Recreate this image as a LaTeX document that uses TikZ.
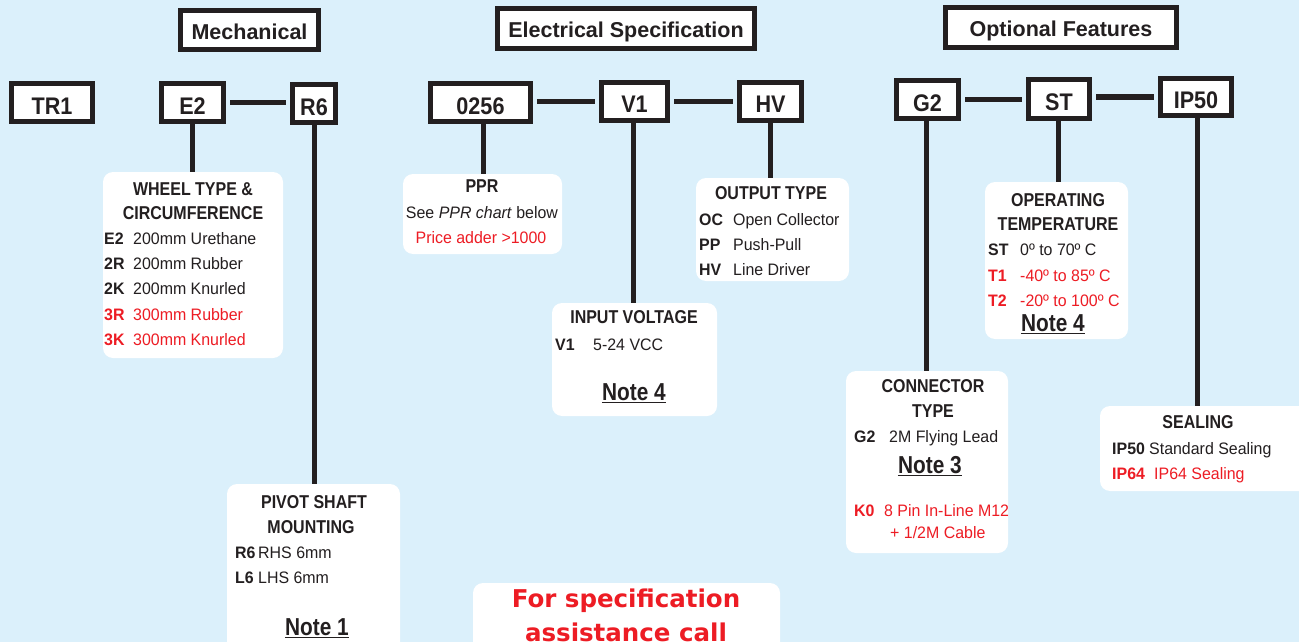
\documentclass[tikz,border=0pt]{standalone}
\usepackage{fontspec}
\setmainfont{Liberation Sans}
\newfontfamily\bodyfont{Liberation Sans}[FakeStretch=0.96]
\newfontfamily\headfont{Liberation Sans}[FakeStretch=0.86]
\newfontfamily\notefont{Liberation Sans}[FakeStretch=0.85]
\newfontfamily\codefont{Liberation Sans}[FakeStretch=0.9]
\newfontfamily\callfont{DejaVu Sans}
\definecolor{bg}{RGB}{219,240,251}
\definecolor{ink}{RGB}{35,31,32}
\definecolor{alert}{RGB}{237,28,36}
\begin{document}
\begin{tikzpicture}[x=1pt,y=-1pt,
  codebox/.style={draw=ink,line width=5pt,fill=white,inner sep=0pt,text=ink,
    font=\codefont\bfseries\fontsize{24}{28}\selectfont,text height=23pt,text depth=0pt},
  titlebox/.style={codebox,font=\bfseries\fontsize{21.5}{26}\selectfont,text height=19pt},
  panel/.style={fill=white,rounded corners=10pt,inner sep=0pt,outer sep=0pt},
  link/.style={draw=ink,line width=5pt},
  hlink/.style={link,shorten <=4pt,shorten >=4pt},
  body/.style={inner sep=0pt,anchor=base west,text=ink,font=\bodyfont\fontsize{16.6}{19}\selectfont},
  key/.style={body,font=\bodyfont\bfseries\fontsize{16.6}{19}\selectfont},
  heading/.style={body,anchor=base,font=\headfont\bfseries\fontsize{18.6}{21}\selectfont},
  centred/.style={body,anchor=base},
  notelabel/.style={inner sep=0pt,anchor=base,text=ink,font=\notefont\bfseries\fontsize{24.5}{28}\selectfont},
  underbar/.style={draw=ink,line width=1.6pt},
  calltext/.style={inner sep=0pt,anchor=base,text=alert,font=\callfont\bfseries\fontsize{24.5}{30}\selectfont}
]
% canvas
\useasboundingbox (0,0) rectangle (1299,642);
\fill[bg] (0,0) rectangle (1299,642);
\clip (0,0) rectangle (1299,642);

% section titles
\node[titlebox,minimum width=138pt,minimum height=39pt] (mech) at (249.5,30) {Mechanical};
\node[titlebox,minimum width=257pt,minimum height=40pt] (elec) at (626,28.5) {Electrical Specification};
\node[titlebox,minimum width=231pt,minimum height=40pt] (opt) at (1061,27.5) {Optional Features};

% ordering code boxes
\node[codebox,minimum width=81pt,minimum height=38pt] (tr1) at (52,102.5) {TR1};
\node[codebox,minimum width=62pt,minimum height=38pt] (e2) at (192.5,102.5) {E2};
\node[codebox,minimum width=43pt,minimum height=38pt] (r6) at (314,103.5) {R6};
\node[codebox,minimum width=100pt,minimum height=38pt] (n0256) at (480.5,102.5) {0256};
\node[codebox,minimum width=66pt,minimum height=38pt] (v1) at (634.5,101.5) {V1};
\node[codebox,minimum width=62pt,minimum height=38pt] (hv) at (770.5,101.5) {HV};
\node[codebox,minimum width=62pt,minimum height=38pt] (g2) at (927.5,99.5) {G2};
\node[codebox,minimum width=61pt,minimum height=39pt] (st) at (1059,99) {ST};
\node[codebox,minimum width=71pt,minimum height=37pt] (ip50) at (1196,97) {IP50};

% option panels
\node[panel,minimum width=180pt,minimum height=186pt] (wheel) at (193,265) {};
\node[panel,minimum width=173pt,minimum height=176pt] (pivot) at (313.5,572) {};
\node[panel,minimum width=159pt,minimum height=80pt] (ppr) at (482.5,214) {};
\node[panel,minimum width=153pt,minimum height=103pt] (output) at (772.5,229.5) {};
\node[panel,minimum width=165pt,minimum height=113pt] (input) at (634.5,359.5) {};
\node[panel,minimum width=143pt,minimum height=157pt] (temp) at (1056.5,260.5) {};
\node[panel,minimum width=162pt,minimum height=182pt] (conn) at (927,462) {};
\node[panel,minimum width=220pt,minimum height=85pt] (seal) at (1210,448.5) {};
\node[panel,minimum width=307pt,minimum height=97pt] (assist) at (626.5,631.5) {};

% links between code boxes
\draw[hlink] (e2.east) -- (e2.east -| r6.west);
\draw[hlink] (v1.west -| n0256.east) -- (v1.west);
\draw[hlink] (v1.east) -- (v1.east -| hv.west);
\draw[hlink] (g2.east) -- (g2.east -| st.west);
\draw[hlink] (ip50.west -| st.east) -- (ip50.west);

% drops from code boxes to their panels
\draw[link] (e2.south) -- (e2.south |- wheel.north);
\draw[link] (r6.south) -- (r6.south |- pivot.north);
\draw[link] ([xshift=2.5pt]n0256.south) -- ([xshift=2.5pt]n0256.south |- ppr.north);
\draw[link] ([xshift=-1.5pt]v1.south) -- ([xshift=-1.5pt]v1.south |- input.north);
\draw[link] (hv.south) -- (hv.south |- output.north);
\draw[link] ([xshift=-1.5pt]g2.south) -- ([xshift=-1.5pt]g2.south |- conn.north);
\draw[link] ([xshift=-1pt]st.south) -- ([xshift=-1pt]st.south |- temp.north);
\draw[link] ([xshift=1pt]ip50.south) -- ([xshift=1pt]ip50.south |- seal.north);

% wheel type
\node[heading] (wh1) at (193,195) {WHEEL TYPE \&};
\node[heading] (wh2) at (193,219) {CIRCUMFERENCE};
\foreach \c/\d/\y/\col [count=\i] in {E2/200mm Urethane/244/ink, 2R/200mm Rubber/269/ink,
    2K/200mm Knurled/294/ink, 3R/300mm Rubber/320/alert, 3K/300mm Knurled/345/alert}{
  \node[key,text=\col] (wk\i) at (104,\y) {\c};
  \node[body,text=\col] (wd\i) at (133,\y) {\d};
}

% pivot shaft
\node[heading] (pv1) at (314,508) {PIVOT SHAFT};
\node[heading] (pv2) at (311,533) {MOUNTING};
\node[key] (pk1) at (235,558) {R6};
\node[body] (pd1) at (258,558) {RHS 6mm};
\node[key] (pk2) at (235,583) {L6};
\node[body] (pd2) at (258,583) {LHS 6mm};
\node[notelabel] (note1) at (317,635) {Note 1};
\draw[underbar] ([yshift=-2.5pt]note1.base west) -- ([yshift=-2.5pt]note1.base east);

% pulses per revolution
\node[heading] (pp1) at (482,192) {PPR};
\node[centred] (pp2) at (482,218) {See \textit{PPR chart} below};
\node[centred,text=alert] (pp3) at (481,243) {Price adder >1000};

% output type
\node[heading] (ot) at (771,199) {OUTPUT TYPE};
\foreach \c/\d/\y [count=\i] in {OC/Open Collector/225, PP/Push-Pull/250, HV/Line Driver/275}{
  \node[key] (ok\i) at (699,\y) {\c};
  \node[body] (od\i) at (733,\y) {\d};
}

% input voltage
\node[heading] (iv) at (634,323) {INPUT VOLTAGE};
\node[key] (ik) at (555,350) {V1};
\node[body] (id) at (593,350) {5-24 VCC};
\node[notelabel] (note4a) at (634,400) {Note 4};
\draw[underbar] ([yshift=-2.5pt]note4a.base west) -- ([yshift=-2.5pt]note4a.base east);

% operating temperature
\node[heading] (tp1) at (1058,206) {OPERATING};
\node[heading] (tp2) at (1058,230) {TEMPERATURE};
\foreach \c/\d/\y/\col [count=\i] in {ST/0º to 70º C/255/ink, T1/-40º to 85º C/281/alert,
    T2/-20º to 100º C/306/alert}{
  \node[key,text=\col] (tk\i) at (988,\y) {\c};
  \node[body,text=\col] (td\i) at (1020,\y) {\d};
}
\node[notelabel] (note4b) at (1053,331) {Note 4};
\draw[underbar] ([yshift=-2.5pt]note4b.base west) -- ([yshift=-2.5pt]note4b.base east);

% connector type
\node[heading] (ct1) at (933,392) {CONNECTOR};
\node[heading] (ct2) at (933,417) {TYPE};
\node[key] (ck1) at (854,442) {G2};
\node[body] (cd1) at (889,442) {2M Flying Lead};
\node[notelabel] (note3) at (930,473) {Note 3};
\draw[underbar] ([yshift=-2.5pt]note3.base west) -- ([yshift=-2.5pt]note3.base east);
\node[key,text=alert] (ck2) at (854,516) {K0};
\node[body,text=alert] (cd2) at (884,516) {8 Pin In-Line M12};
\node[body,text=alert] (cd3) at (890,538) {+ 1/2M Cable};

% sealing
\node[heading] (sl) at (1198,428) {SEALING};
\node[key] (sk1) at (1112,454) {IP50};
\node[body] (sd1) at (1149,454) {Standard Sealing};
\node[key,text=alert] (sk2) at (1112,479) {IP64};
\node[body,text=alert] (sd2) at (1154,479) {IP64 Sealing};

% assistance note
\node[calltext] (call1) at (626,607) {For specification};
\node[calltext] (call2) at (626,641) {assistance call};
\end{tikzpicture}
\end{document}
